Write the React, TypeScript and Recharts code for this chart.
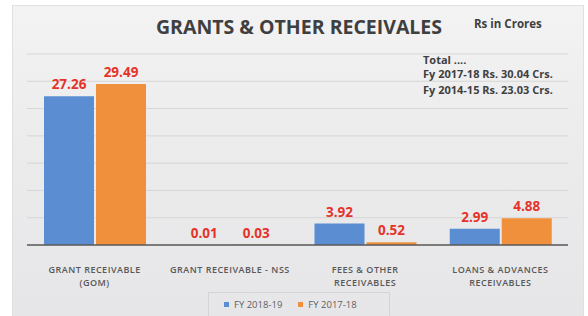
import React from "react";
import { Bar, BarChart, CartesianGrid, LabelList, Legend, XAxis, YAxis } from "recharts";

const categories = [
	"GRANT RECEIVABLE (GOM)",
	"GRANT RECEIVABLE - NSS",
	"FEES & OTHER RECEIVABLES",
	"LOANS & ADVANCES RECEIVABLES",
];
const tickLines = [
	["GRANT RECEIVABLE", "(GOM)"],
	["GRANT RECEIVABLE - NSS"],
	["FEES & OTHER", "RECEIVABLES"],
	["LOANS & ADVANCES", "RECEIVABLES"],
];
const fy1819 = [27.26, 0.01, 3.92, 2.99];
const fy1718 = [29.49, 0.03, 0.52, 4.88];
const yTicks = [0, 5, 10, 15, 20, 25, 30, 35];
const totalLines = ["Total ....", "Fy 2017-18 Rs. 30.04 Crs.", "Fy 2014-15 Rs. 23.03 Crs."];

const BLUE = "#5b8dd3";
const ORANGE = "#f08f3c";
const RED = "#e5332a";
const FONT = "'Open Sans', sans-serif";

const data = categories.map((name, i) => ({
	name,
	idx: i,
	a: fy1819[i],
	b: fy1718[i],
}));

function CategoryTick({ x, y, index }: { x?: number; y?: number; index?: number }) {
	const lines = tickLines[index ?? 0] ?? [];
	return (
		<text
			x={x}
			y={(y ?? 0) + 20}
			textAnchor="middle"
			fill="#585858"
			fontSize={9}
			fontWeight={600}
			fontFamily={FONT}
			letterSpacing={0.5}
		>
			{lines.map((l, i) => (
				<tspan key={i} x={x} dy={i === 0 ? 0 : 13}>
					{l}
				</tspan>
			))}
		</text>
	);
}

function LegendBox() {
	const items = [
		{ label: "FY 2018-19", color: BLUE },
		{ label: "FY 2017-18", color: ORANGE },
	];
	return (
		<div
			style={{
				boxSizing: "border-box",
				width: 182,
				height: 24,
				border: "1px solid #d4d4d4",
				borderBottom: "none",
				display: "flex",
				alignItems: "center",
				paddingLeft: 15,
				fontFamily: FONT,
				fontSize: 9.5,
				color: "#5f5f5f",
			}}
		>
			{items.map((it) => (
				<span key={it.label} style={{ display: "flex", alignItems: "center", marginRight: 16 }}>
					<span style={{ width: 5, height: 5, background: it.color, marginRight: 5 }} />
					{it.label}
				</span>
			))}
		</div>
	);
}

export default function App() {
	return (
		<div style={{ position: "absolute", left: 0, top: 0, width: 588, height: 316, background: "#fff", overflow: "hidden" }}>
			<div
				style={{
					position: "absolute",
					left: 12,
					top: 5,
					width: 570,
					height: 320,
					background: "linear-gradient(180deg, #f3f3f4 0%, #ececed 40%, #e6e6e8 100%)",
					border: "1px solid #e0e0e0",
				}}
			/>
			<div
				style={{
					position: "absolute",
					left: 0,
					width: 598,
					top: 13,
					textAlign: "center",
					fontFamily: FONT,
					fontWeight: 700,
					fontSize: 19.5,
					color: "#3f3f3f",
				}}
			>
				GRANTS &amp; OTHER RECEIVALES
			</div>
			<div
				style={{
					position: "absolute",
					left: 474,
					top: 16,
					fontFamily: FONT,
					fontWeight: 700,
					fontSize: 11.5,
					color: "#404040",
				}}
			>
				Rs in Crores
			</div>
			<div
				style={{
					position: "absolute",
					left: 423,
					top: 53,
					fontFamily: FONT,
					fontWeight: 700,
					fontSize: 11,
					color: "#404040",
					lineHeight: "14px",
				}}
			>
				{totalLines.map((t, i) => (
					<div key={i} style={{ marginBottom: i === 1 ? 2 : 0 }}>
						{t}
					</div>
				))}
			</div>
			<div style={{ position: "absolute", left: 0, top: 0 }}>
				<BarChart
					width={588}
					height={316}
					data={data}
					margin={{ top: 54, right: 20, left: 27, bottom: 0 }}
					barGap={2}
					barCategoryGap={17}
				>
					<CartesianGrid vertical={false} stroke="#d6d6d6" />
					<YAxis hide domain={[0, 35]} ticks={yTicks} />
					<XAxis
						dataKey="name"
						height={47}
						tickLine={false}
						axisLine={{ stroke: "#5a5a5a", strokeWidth: 1.5 }}
						interval={0}
						tick={<CategoryTick />}
					/>
					<Legend
						verticalAlign="bottom"
						content={<LegendBox />}
						wrapperStyle={{ left: 208, bottom: 0, width: 182, height: 24 }}
					/>
					<Bar dataKey="a" name="FY 2018-19" fill={BLUE} barSize={50} isAnimationActive={false}>
						<LabelList
							dataKey="a"
							position="top"
							offset={7}
							fill={RED}
							fontSize={13.5}
							fontWeight={700}
							fontFamily={FONT}
							formatter={(v: number) => v.toFixed(2)}
						/>
					</Bar>
					<Bar dataKey="b" name="FY 2017-18" fill={ORANGE} barSize={50} isAnimationActive={false}>
						<LabelList
							dataKey="b"
							position="top"
							offset={7}
							fill={RED}
							fontSize={13.5}
							fontWeight={700}
							fontFamily={FONT}
							formatter={(v: number) => v.toFixed(2)}
						/>
					</Bar>
				</BarChart>
			</div>
		</div>
	);
}
